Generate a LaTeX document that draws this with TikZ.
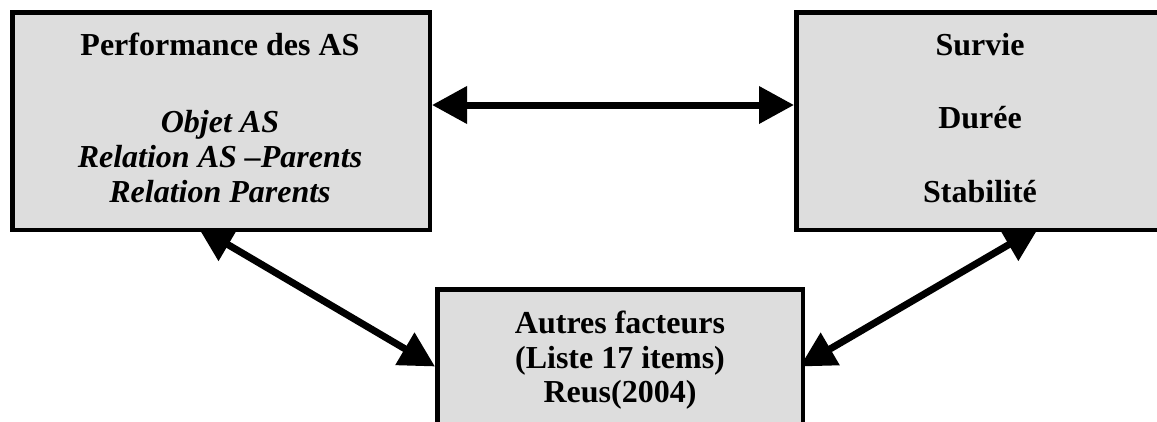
\documentclass[tikz,border=0pt]{standalone}
\usepackage{fontspec}
\setmainfont{Liberation Serif}
\usetikzlibrary{arrows.meta,calc}
\pgfdeclarelayer{background}
\pgfsetlayers{background,main}
\definecolor{boxgray}{RGB}{221,221,221}
\begin{document}
\begin{tikzpicture}[x=1pt,y=-1pt,
  box/.style={draw=black,fill=boxgray,line width=4.5pt,rectangle,inner sep=0pt},
  txt/.style={anchor=base,inner sep=0pt,font=\fontsize{32}{36}\selectfont\bfseries},
  itxt/.style={txt,font=\fontsize{32}{36}\selectfont\bfseries\itshape},
  link/.style={line width=7pt,{Triangle[length=35pt,width=36pt]}-{Triangle[length=35pt,width=36pt]}}]
\useasboundingbox (0,0) rectangle (1157,421);
\clip (0,0) rectangle (1157,421);

% the three boxes
\node[box,minimum width=417.5pt,minimum height=217.5pt] (perf) at (221,121) {};
\node[box,minimum width=367.5pt,minimum height=217.5pt] (surv) at (980,121) {};
\node[box,minimum width=365.5pt,minimum height=178.5pt] (autres) at (620,378.5) {};

% texts
\node[txt]  (p1) at (220,55)  {Performance des AS};
\node[itxt] (p2) at (220,132) {Objet AS};
\node[itxt] (p3) at (220,167) {Relation AS –Parents};
\node[itxt] (p4) at (220,202) {Relation Parents};

\node[txt] (s1) at (980,55)  {Survie};
\node[txt] (s2) at (980,128) {Durée};
\node[txt] (s3) at (980,202) {Stabilité};

\node[txt] (a1) at (620,333) {Autres facteurs};
\node[txt] (a2) at (620,368) {(Liste 17 items)};
\node[txt] (a3) at (620,402) {Reus(2004)};

% connector end points
\coordinate (pe) at ($(perf.east)+(0,-16)$);
\coordinate (sw) at ($(surv.west)+(0,-16)$);
\coordinate (ps) at ($(perf.south)+(-23,-5)$);
\coordinate (ss) at ($(surv.south)+(59,-5)$);
\coordinate (aw) at ($(autres.west)+(0,-12)$);
\coordinate (ae) at ($(autres.east)+(-5,-12)$);

% double-headed connectors, drawn beneath the boxes
\begin{pgfonlayer}{background}
\draw[link] (pe) -- (sw);
\draw[link] (ps) -- (aw);
\draw[link] (ss) -- (ae);
\end{pgfonlayer}
\end{tikzpicture}
\end{document}
